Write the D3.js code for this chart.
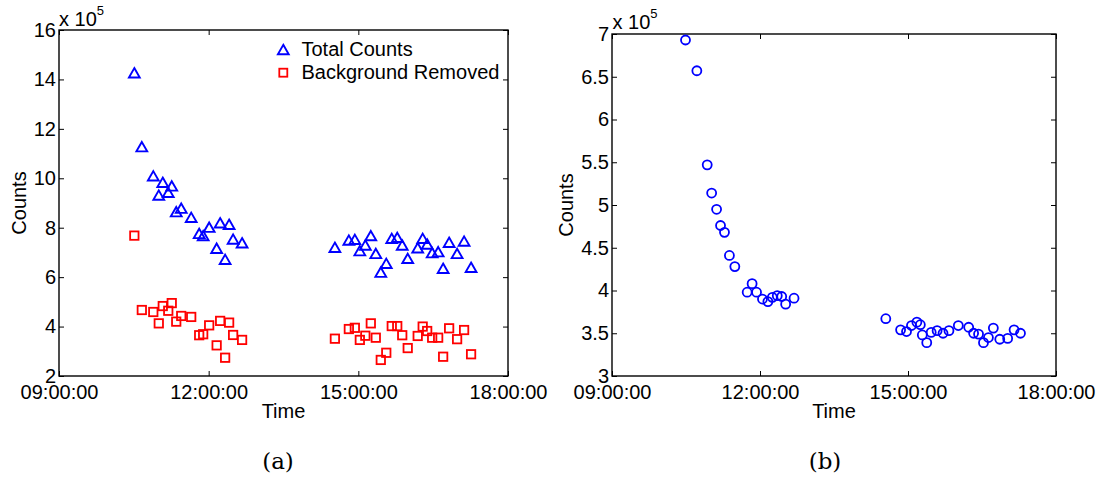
<!DOCTYPE html>
<html>
<head>
<meta charset="utf-8">
<script src="https://cdn.jsdelivr.net/npm/d3@7"></script>
<style>
  html, body { margin: 0; padding: 0; background: #fff; }
  svg { display: block; }
  text { font-family: "Liberation Sans", Arial, Helvetica, sans-serif; fill: #000; }
</style>
</head>
<body>
<svg id="chart" width="1099" height="483"></svg>
<script>
// ---------- DATA (times in decimal hours, counts in units of 1e5) ----------
const timeTickValues = [9, 12, 15, 18];
const timeTickLabels = ["09:00:00", "12:00:00", "15:00:00", "18:00:00"];
const leftYTicks = [2, 4, 6, 8, 10, 12, 14, 16];
const rightYTicks = [3, 3.5, 4, 4.5, 5, 5.5, 6, 6.5, 7];
const rightYTickLabels = ["3", "3.5", "4", "4.5", "5", "5.5", "6", "6.5", "7"];

// Panel (a)
const timesA = [10.51, 10.66, 10.89, 11.00, 11.08, 11.19, 11.26, 11.35, 11.45, 11.65,
                11.81, 11.89, 12.01, 12.16, 12.23, 12.33, 12.41, 12.49, 12.67,
                14.53, 14.81, 14.93, 15.03, 15.14, 15.25, 15.35, 15.45, 15.56, 15.67,
                15.78, 15.88, 15.99, 16.19, 16.29, 16.38, 16.48, 16.60, 16.70, 16.82,
                16.98, 17.12, 17.26];
const totalCounts = [14.27, 11.28, 10.10, 9.32, 9.84, 9.43, 9.69, 8.65, 8.79, 8.42,
                     7.77, 7.68, 8.02, 7.17, 8.20, 6.72, 8.14, 7.54, 7.39,
                     7.21, 7.50, 7.53, 7.07, 7.30, 7.68, 6.96, 6.20, 6.56, 7.57,
                     7.61, 7.30, 6.76, 7.19, 7.57, 7.34, 6.99, 7.03, 6.36, 7.41,
                     6.96, 7.46, 6.40];
const backgroundRemoved = [7.68, 4.67, 4.59, 4.13, 4.83, 4.64, 4.95, 4.20, 4.43, 4.39,
                           3.65, 3.69, 4.05, 3.24, 4.23, 2.74, 4.16, 3.66, 3.46,
                           3.51, 3.90, 3.95, 3.46, 3.63, 4.13, 3.55, 2.65, 2.94, 4.02,
                           4.02, 3.65, 3.13, 3.62, 4.00, 3.82, 3.55, 3.55, 2.78, 3.93,
                           3.49, 3.86, 2.88];

// Panel (b)
const timesB = [10.49, 10.72, 10.93, 11.02, 11.12, 11.20, 11.28, 11.38, 11.49, 11.74,
                11.84, 11.93, 12.05, 12.16, 12.25, 12.35, 12.44, 12.52, 12.69,
                14.55, 14.85, 14.97, 15.07, 15.18, 15.25, 15.29, 15.38, 15.47, 15.59,
                15.71, 15.83, 16.02, 16.23, 16.33, 16.43, 16.53, 16.63, 16.73, 16.86,
                17.02, 17.15, 17.28];
const countsB = [6.93, 6.57, 5.47, 5.14, 4.95, 4.76, 4.68, 4.41, 4.28, 3.98,
                 4.08, 3.98, 3.90, 3.87, 3.92, 3.94, 3.93, 3.84, 3.91,
                 3.67, 3.54, 3.52, 3.59, 3.63, 3.60, 3.48, 3.39, 3.51, 3.53,
                 3.50, 3.53, 3.59, 3.57, 3.50, 3.49, 3.39, 3.45, 3.56, 3.43,
                 3.44, 3.54, 3.50];

const legendLabels = ["Total Counts", "Background Removed"];
const yLabel = "Counts";
const xLabel = "Time";
const captions = ["(a)", "(b)"];

// ---------- DRAWING ----------
const svg = d3.select("#chart");
svg.append("rect").attr("width", 1099).attr("height", 483).attr("fill", "#fff");

const FS = 20;
const BLUE = "#0000ff", RED = "#ff0000";

function triPath(cx, cy) {
  const hw = 5.4, hh = 4.7;
  return `M${cx},${cy - hh}L${cx + hw},${cy + hh}L${cx - hw},${cy + hh}Z`;
}

function drawFrame(g, x, y, yTicks, yFmt, box) {
  const fmtX = d => timeTickLabels[timeTickValues.indexOf(d)];
  const axStyle = sel => {
    sel.select(".domain").remove();
    sel.selectAll("line").attr("stroke", "#000").attr("stroke-width", 1);
    sel.selectAll("text").style("font-size", FS + "px").attr("fill", "#000")
       .style("font-family", '"Liberation Sans", Arial, sans-serif');
  };
  g.append("g").attr("transform", `translate(0,${box.b})`)
    .call(d3.axisBottom(x).tickValues(timeTickValues).tickFormat(fmtX).tickSize(-5).tickPadding(8.5))
    .call(axStyle);
  g.append("g").attr("transform", `translate(0,${box.t})`)
    .call(d3.axisTop(x).tickValues(timeTickValues).tickFormat("").tickSize(-5))
    .call(axStyle);
  g.append("g").attr("transform", `translate(${box.l},0)`)
    .call(d3.axisLeft(y).tickValues(yTicks).tickFormat(yFmt).tickSize(-5).tickPadding(3))
    .call(axStyle);
  g.append("g").attr("transform", `translate(${box.r},0)`)
    .call(d3.axisRight(y).tickValues(yTicks).tickFormat("").tickSize(-5))
    .call(axStyle);
  g.append("rect")
    .attr("x", box.l).attr("y", box.t)
    .attr("width", box.r - box.l).attr("height", box.b - box.t)
    .attr("fill", "none").attr("stroke", "#000").attr("stroke-width", 1.4);
}

function drawLabels(g, box, countsX, expX, expY) {
  const cx = (box.l + box.r) / 2;
  g.append("text").attr("x", cx).attr("y", 418).attr("text-anchor", "middle")
    .style("font-size", FS + "px").text(xLabel);
  g.append("text").attr("transform", `translate(${countsX},${(box.t + box.b) / 2}) rotate(-90)`)
    .attr("text-anchor", "middle").style("font-size", FS + "px").text(yLabel);
  const ex = g.append("text").attr("x", expX).attr("y", expY).style("font-size", FS + "px");
  ex.append("tspan").text("x 10");
  ex.append("tspan").attr("dy", -11).style("font-size", "13px").text("5");
}

// Panel (a)
const boxA = { l: 59, r: 508, t: 30, b: 376 };
const xA = d3.scaleLinear().domain([9, 18]).range([boxA.l, boxA.r]);
const yA = d3.scaleLinear().domain([2, 16]).range([boxA.b, boxA.t]);
const gA = svg.append("g");
drawFrame(gA, xA, yA, leftYTicks, d3.format("d"), boxA);
drawLabels(gA, boxA, 26, 59, 26);

gA.append("g").selectAll("path").data(timesA).join("path")
  .attr("d", (t, i) => triPath(xA(t), yA(totalCounts[i])))
  .attr("fill", "none").attr("stroke", BLUE).attr("stroke-width", 1.9)
  .attr("stroke-linejoin", "miter");
gA.append("g").selectAll("rect").data(timesA).join("rect")
  .attr("x", (t) => xA(t) - 4.2)
  .attr("y", (t, i) => yA(backgroundRemoved[i]) - 4.2)
  .attr("width", 8.4).attr("height", 8.4)
  .attr("fill", "none").attr("stroke", RED).attr("stroke-width", 1.8);

// legend
const lg = gA.append("g");
lg.append("path").attr("d", triPath(283.3, 49.5))
  .attr("fill", "none").attr("stroke", BLUE).attr("stroke-width", 1.9);
lg.append("rect").attr("x", 283.3 - 4).attr("y", 72.7 - 4).attr("width", 8).attr("height", 8)
  .attr("fill", "none").attr("stroke", RED).attr("stroke-width", 1.8);
lg.append("text").attr("x", 301.5).attr("y", 56).style("font-size", FS + "px").text(legendLabels[0]);
lg.append("text").attr("x", 301.5).attr("y", 78.5).style("font-size", FS + "px").text(legendLabels[1]);

// Panel (b)
const boxB = { l: 612, r: 1056, t: 34, b: 376 };
const xB = d3.scaleLinear().domain([9, 18]).range([boxB.l, boxB.r]);
const yB = d3.scaleLinear().domain([3, 7]).range([boxB.b, boxB.t]);
const gB = svg.append("g");
drawFrame(gB, xB, yB, rightYTicks, d => rightYTickLabels[rightYTicks.indexOf(d)], boxB);
drawLabels(gB, boxB, 573, 612.5, 28.5);

gB.append("g").selectAll("circle").data(timesB).join("circle")
  .attr("cx", t => xB(t))
  .attr("cy", (t, i) => yB(countsB[i]))
  .attr("r", 4.5)
  .attr("fill", "none").attr("stroke", BLUE).attr("stroke-width", 1.8);

// captions
svg.append("text").attr("x", 278).attr("y", 469).attr("text-anchor", "middle")
  .style("font-family", '"DejaVu Serif", "Liberation Serif", serif').style("font-size", "23px")
  .attr("fill", "#333").text(captions[0]);
svg.append("text").attr("x", 825).attr("y", 469).attr("text-anchor", "middle")
  .style("font-family", '"DejaVu Serif", "Liberation Serif", serif').style("font-size", "23px")
  .attr("fill", "#333").text(captions[1]);
</script>
</body>
</html>
